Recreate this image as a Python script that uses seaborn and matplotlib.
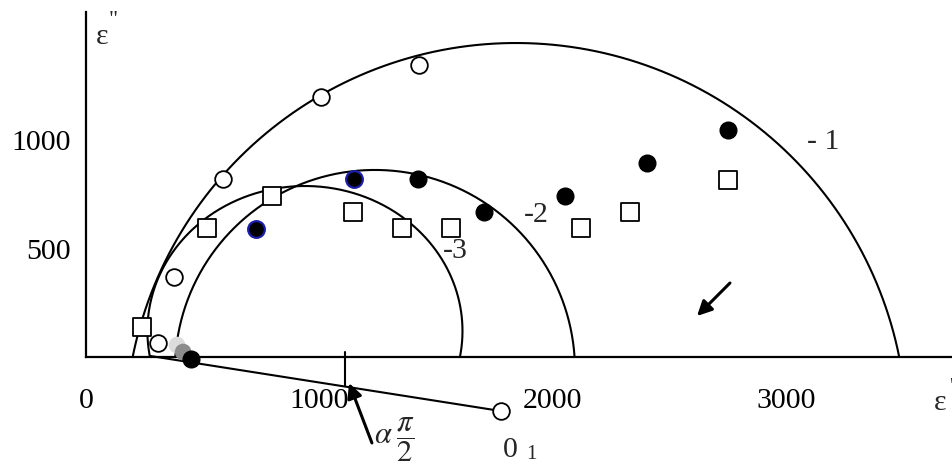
import numpy as np
import matplotlib
matplotlib.use("Agg")
import matplotlib.pyplot as plt
import seaborn as sns

# Cole-Cole diagram: loss factor ε'' against permittivity ε'
open_x = [308, 377, 587, 1007, 1427]
open_y = [64, 369, 820, 1198, 1346]

square_x = [240, 518, 797, 1144, 1354, 1564, 2121, 2331, 2751]
square_y = [138, 594, 742, 668, 594, 594, 594, 668, 816]

filled_x = [450, 1422, 1705, 2052, 2404, 2751]
filled_y = [-9, 820, 668, 742, 894, 1046]

blue_x = [728, 1148]
blue_y = [590, 820]

trail_x = [390, 416]
trail_y = [55, 23]
trail_colors = ["#dcdcdc", "#8c8c8c"]

# arc centre O1 and the radius drawn to it
center_x = [1778]
center_y = [-249]
radius_x = [274, 1778]
radius_y = [5, -249]
cross_x = [1110, 1110]
cross_y = [23, -135]

# fitted arcs 1, 2, 3: centre and semi-axes
arc_cx = [1842, 1238, 938]
arc_cy = [-355, -60, 120]
arc_rx = [1675, 857, 675]
arc_ry = [1802, 922, 668]
arc_names = ["- 1", "-2", "-3"]
arc_label_x = [3158, 1928, 1581]
arc_label_y = [991, 654, 488]

x_ticks = [0, 1000, 2000, 3000]
y_ticks = [500, 1000]

sns.set_style("white")
plt.rcParams["font.family"] = ["Liberation Serif", "DejaVu Serif"]
plt.rcParams["mathtext.fontset"] = "stix"

fig = plt.figure(figsize=(9.53, 4.67), dpi=100)
ax = fig.add_axes([0, 0, 1, 1])
ax.set_xlim(-368.5, 3714.6)
ax.set_ylim(-506.9, 1645.2)

LW = 1.5
for cx, cy, rx, ry in zip(arc_cx, arc_cy, arc_rx, arc_ry):
    t0 = np.arcsin(-cy / ry)
    t = np.linspace(t0, np.pi - t0, 500)
    sns.lineplot(x=cx + rx * np.cos(t), y=cy + ry * np.sin(t), sort=False,
                 estimator=None, color="black", lw=LW, ax=ax)

sns.lineplot(x=radius_x, y=radius_y, sort=False, estimator=None,
             color="black", lw=LW, ax=ax)
sns.lineplot(x=cross_x, y=cross_y, sort=False, estimator=None,
             color="black", lw=LW, ax=ax)

MS = 12.0
sns.scatterplot(x=open_x + center_x, y=open_y + center_y, marker="o", s=MS ** 2,
                color="white", edgecolor="black", linewidth=1.3, ax=ax, zorder=4)
sns.scatterplot(x=square_x, y=square_y, marker="s", s=12.5 ** 2,
                color="white", edgecolor="black", linewidth=1.3, ax=ax, zorder=4)
for x, y, c in zip(trail_x, trail_y, trail_colors):
    sns.scatterplot(x=[x], y=[y], marker="o", s=MS ** 2, color=c,
                    edgecolor="none", linewidth=0, ax=ax, zorder=4)
sns.scatterplot(x=filled_x, y=filled_y, marker="o", s=MS ** 2,
                color="black", edgecolor="black", linewidth=1.0, ax=ax, zorder=5)
sns.scatterplot(x=blue_x, y=blue_y, marker="o", s=MS ** 2,
                color="black", edgecolor="#1c1ca8", linewidth=1.6, ax=ax, zorder=5)

# axes drawn as two lines through the origin
for side in ["top", "right"]:
    ax.spines[side].set_visible(False)
ax.spines["left"].set_position(("data", 0))
ax.spines["bottom"].set_position(("data", 0))
ax.spines["left"].set_bounds(0, 1590)
ax.spines["bottom"].set_bounds(0, 3714.6)
for side in ["left", "bottom"]:
    ax.spines[side].set_linewidth(1.6)
    ax.spines[side].set_color("black")

ax.set_xticks(x_ticks)
ax.set_xticklabels([str(v) for v in x_ticks])
ax.set_yticks(y_ticks)
ax.set_yticklabels([str(v) for v in y_ticks])
ax.tick_params(axis="both", direction="in", length=24, width=1.4,
               labelsize=21.5, colors="black")
ax.tick_params(axis="x", pad=22)
ax.tick_params(axis="y", pad=11)
ax.set_xlabel("")
ax.set_ylabel("")

FS = 21.5
ax.text(68, 1474, "ε", fontsize=FS, ha="center", va="center")
ax.text(118, 1552, "\"", fontsize=16, ha="center", va="center")
ax.text(3659, -212, "ε", fontsize=FS, ha="center", va="center")
ax.text(3708, -140, "'", fontsize=16, ha="center", va="center")

for name, lx, ly in zip(arc_names, arc_label_x, arc_label_y):
    ax.text(lx, ly, name, fontsize=FS, ha="center", va="center")

ax.text(1817, -429, "0", fontsize=FS, ha="center", va="center")
ax.text(1907, -450, "1", fontsize=15, ha="center", va="center")
ax.text(1236, -380, r"$\alpha\;\dfrac{\pi}{2}$", fontsize=22, ha="left", va="center")

arrow = dict(arrowstyle="-|>", color="black", lw=2.2, mutation_scale=22,
             shrinkA=0, shrinkB=0)
ax.annotate("", xy=(1127, -120), xytext=(1225, -396), arrowprops=arrow)
ax.annotate("", xy=(2618, 189), xytext=(2759, 341), arrowprops=arrow)

fig.savefig("out.png", dpi=100)
